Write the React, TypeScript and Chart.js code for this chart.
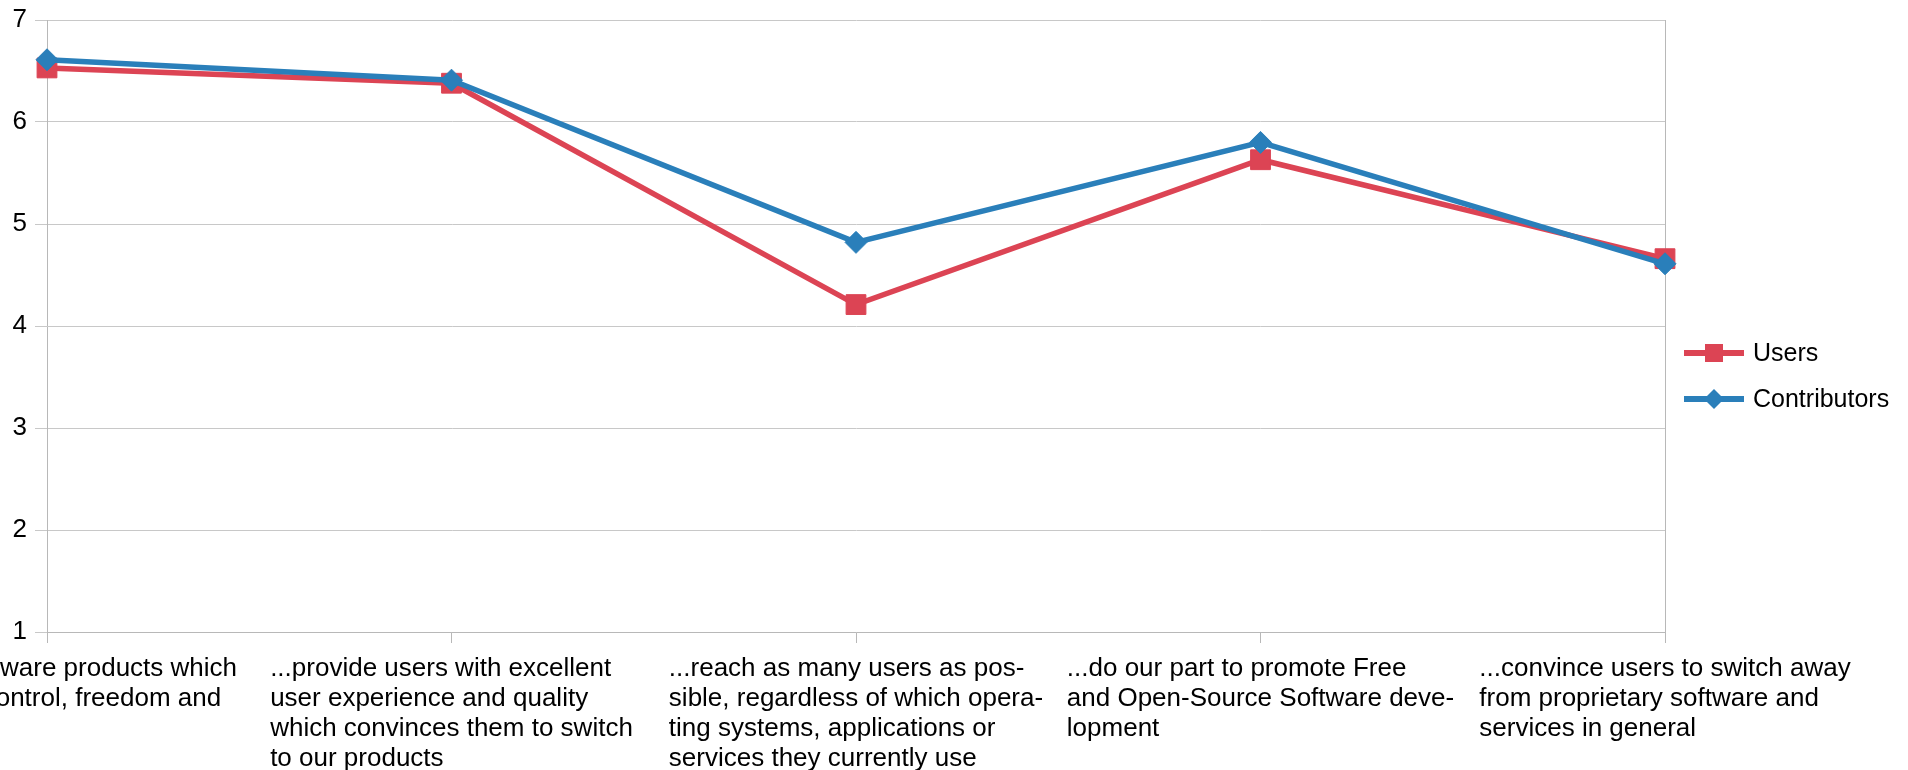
import React, { useEffect, useRef } from "react";
import { Chart, registerables } from "chart.js";

Chart.register(...registerables);

const categories: string[][] = [
  ["...create software products which", "give users control, freedom and", "privacy"],
  ["...provide users with excellent", "user experience and quality", "which convinces them to switch", "to our products"],
  ["...reach as many users as pos-", "sible, regardless of which opera-", "ting systems, applications or", "services they currently use"],
  ["...do our part to promote Free", "and Open-Source Software deve-", "lopment"],
  ["...convince users to switch away", "from proprietary software and", "services in general"],
];

const usersValues = [6.53, 6.38, 4.21, 5.63, 4.66];
const contributorsValues = [6.61, 6.41, 4.82, 5.80, 4.61];

const seriesNames = ["Users", "Contributors"];
const yTicks = [1, 2, 3, 4, 5, 6, 7];

const RED = "rgb(220,68,84)";
const BLUE = "rgb(42,127,186)";
const FONT = '"Liberation Sans", Arial, sans-serif';

const labelsPlugin = {
  id: "wrappedLabels",
  afterDraw(chart: any) {
    const ctx = chart.ctx;
    const xs = chart.scales.x;
    ctx.save();
    ctx.font = `26px ${FONT}`;
    ctx.fillStyle = "#000";
    ctx.textAlign = "left";
    ctx.textBaseline = "alphabetic";
    categories.forEach((lines, i) => {
      const x = xs.getPixelForValue(i);
      const w = Math.max(...lines.map((l) => ctx.measureText(l).width));
      const left = x - w / 2;
      lines.forEach((l, j) => {
        ctx.fillText(l, left, chart.chartArea.bottom + 44 + j * 30);
      });
    });
    ctx.restore();
  },
};

const borderPlugin = {
  id: "rightBorder",
  beforeDatasetsDraw(chart: any) {
    const { ctx, chartArea } = chart;
    ctx.save();
    ctx.strokeStyle = "#b8b8b8";
    ctx.lineWidth = 1;
    ctx.beginPath();
    ctx.moveTo(Math.round(chartArea.right) + 0.5, chartArea.top);
    ctx.lineTo(Math.round(chartArea.right) + 0.5, chartArea.bottom);
    ctx.stroke();
    ctx.restore();
  },
};

const legendPlugin = {
  id: "customLegend",
  afterDraw(chart: any) {
    const { ctx, chartArea } = chart;
    const x0 = chartArea.right + 19;
    const rows = [353, 399];
    ctx.save();
    chart.data.datasets.forEach((ds: any) => {
      const y = rows[seriesNames.indexOf(ds.label)];
      ctx.strokeStyle = ds.borderColor;
      ctx.lineWidth = 6;
      ctx.beginPath();
      ctx.moveTo(x0, y);
      ctx.lineTo(x0 + 60, y);
      ctx.stroke();
      ctx.fillStyle = ds.borderColor;
      const cx = x0 + 30;
      if (ds.pointStyle === "rect") {
        ctx.fillRect(cx - 9, y - 9, 18, 18);
      } else {
        ctx.beginPath();
        ctx.moveTo(cx - 10, y);
        ctx.lineTo(cx, y - 10);
        ctx.lineTo(cx + 10, y);
        ctx.lineTo(cx, y + 10);
        ctx.closePath();
        ctx.fill();
      }
      ctx.fillStyle = "#000";
      ctx.font = `25px ${FONT}`;
      ctx.textAlign = "left";
      ctx.textBaseline = "middle";
      ctx.fillText(ds.label, x0 + 69, y + 1);
    });
    ctx.restore();
  },
};

export default function App() {
  const ref = useRef<HTMLCanvasElement | null>(null);
  useEffect(() => {
    if (!ref.current) return;
    const chart = new Chart(ref.current, {
      type: "line",
      data: {
        labels: categories.map((c) => c.join(" ")),
        datasets: [
          {
            label: seriesNames[0],
            data: usersValues,
            borderColor: RED,
            backgroundColor: RED,
            borderWidth: 5.5,
            pointStyle: "rect",
            pointRadius: 14,
            pointBorderWidth: 1,
            pointHoverRadius: 14,
            tension: 0,
            clip: false as any,
            order: 1,
          },
          {
            label: seriesNames[1],
            data: contributorsValues,
            borderColor: BLUE,
            backgroundColor: BLUE,
            borderWidth: 5.5,
            pointStyle: "rectRot",
            pointRadius: 11,
            pointBorderWidth: 1,
            pointHoverRadius: 11,
            tension: 0,
            clip: false as any,
            order: 0,
          },
        ],
      },
      options: {
        responsive: false,
        animation: false,
        devicePixelRatio: 1,
        layout: { padding: { top: 20, right: 243, left: 0, bottom: 0 } },
        plugins: { legend: { display: false }, tooltip: { enabled: false } },
        scales: {
          x: {
            type: "category",
            offset: false,
            grid: { drawOnChartArea: false, drawTicks: true, tickLength: 11, color: "#b8b8b8" },
            border: { display: true, color: "#b8b8b8" },
            ticks: { display: false },
            afterFit: (s: any) => {
              s.height = 138;
              s.paddingLeft = 0;
              s.paddingRight = 0;
            },
          },
          y: {
            min: 1,
            max: 7,
            afterBuildTicks: (s: any) => {
              s.ticks = yTicks.map((v) => ({ value: v }));
            },
            grid: { color: "#c8c8c8", drawTicks: true, tickLength: 12 },
            border: { display: true, color: "#b8b8b8" },
            ticks: {
              color: "#000",
              padding: 8,
              font: { family: FONT, size: 26 },
            },
            afterFit: (s: any) => {
              s.width = 47;
              s.paddingTop = 0;
              s.paddingBottom = 0;
            },
          },
        },
      },
      plugins: [borderPlugin, labelsPlugin, legendPlugin],
    });
    return () => chart.destroy();
  }, []);
  return (
    <div style={{ position: "absolute", left: 0, top: 0, width: 1908, height: 770, background: "#fff" }}>
      <canvas ref={ref} width={1908} height={770} style={{ display: "block" }} />
    </div>
  );
}
